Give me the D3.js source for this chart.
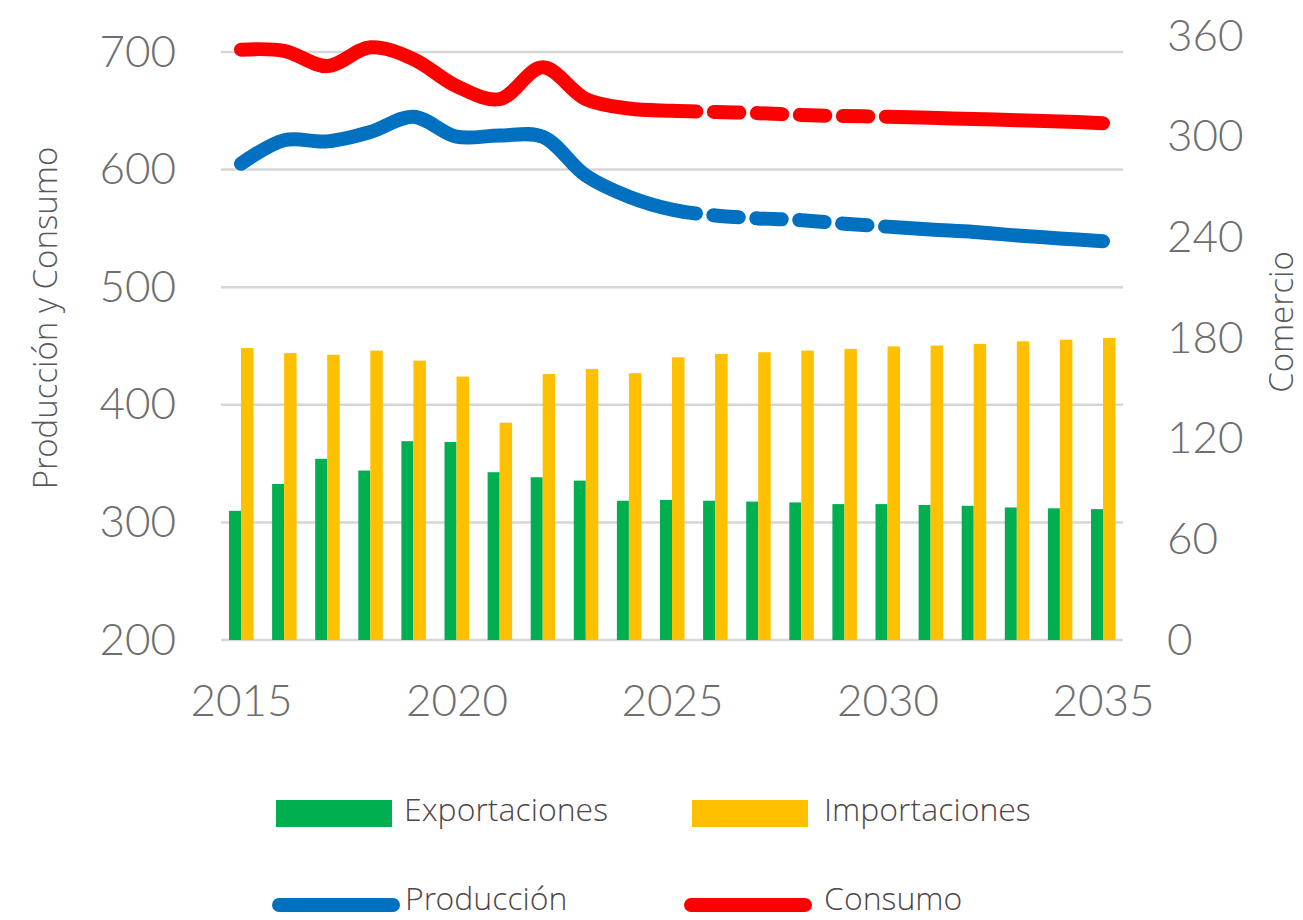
<!DOCTYPE html>
<html>
<head>
<meta charset="utf-8">
<script src="https://cdn.jsdelivr.net/npm/d3@7"></script>
<style>
  body { margin: 0; background: #fff; }
  svg { display: block; font-family: "Lato Light", Lato, "Open Sans", sans-serif; }
  .lbl { font-family: "Open Sans Light", "Open Sans", Lato, sans-serif; }
</style>
</head>
<body>
<div id="chart"></div>
<script>
var years = d3.range(2015, 2036);
var xTicks = [2015, 2020, 2025, 2030, 2035];
var leftTicks = [200, 300, 400, 500, 600, 700];
var rightTicks = [0, 60, 120, 180, 240, 300, 360];

// Comercio (right axis)
var exportaciones = [77, 93, 108, 101, 118.5, 118, 100, 97, 95, 83,
    83.5, 83, 82.5, 82, 81, 81, 80.5, 80, 79, 78.5, 78];
var importaciones = [174, 171, 170, 172.5, 166.5, 157, 129.5, 158.5, 161.5, 159,
    168.5, 170.5, 171.5, 172.5, 173.5, 175, 175.5, 176.5, 178, 179, 180];

// Produccion y Consumo (left axis)
var produccion = [605, 625, 624, 632, 645, 628, 629, 628, 595, 577,
    566, 561, 558.5, 557, 554, 551.5, 549, 547, 544, 541.5, 539];
var consumo = [702, 701, 688, 704, 694, 671, 660, 687, 660, 652,
    650, 649, 648, 646.5, 645.5, 645, 644, 643, 642, 641, 639.5];

// projection years drawn dashed
var dashFrom = 2025, dashTo = 2030;

var width = 1303, height = 920;

var svg = d3.select("#chart").append("svg")
    .attr("width", width)
    .attr("height", height);

var x = d3.scalePoint().domain(years).range([241, 1103]);
var yL = d3.scaleLinear().domain([200, 700]).range([640, 52]);
var yR = d3.scaleLinear().domain([0, 360]).range([640, 36]);

// gridlines
svg.append("g")
    .selectAll("line")
    .data(leftTicks)
    .enter().append("line")
    .attr("x1", 221).attr("x2", 1123)
    .attr("y1", function (d) { return yL(d); })
    .attr("y2", function (d) { return yL(d); })
    .attr("stroke", "#d6d6d6")
    .attr("stroke-width", 2.5);

// bars
var barW = 12;
var bars = svg.append("g");
bars.selectAll(".exp")
    .data(exportaciones)
    .enter().append("rect")
    .attr("x", function (d, i) { return x(years[i]) - barW; })
    .attr("y", function (d) { return yR(d); })
    .attr("width", barW)
    .attr("height", function (d) { return yR(0) - yR(d); })
    .attr("fill", "#00b050");
bars.selectAll(".imp")
    .data(importaciones)
    .enter().append("rect")
    .attr("x", function (d, i) { return x(years[i]); })
    .attr("y", function (d) { return yR(d); })
    .attr("width", barW + 0.5)
    .attr("height", function (d) { return yR(0) - yR(d); })
    .attr("fill", "#ffc000");

// lines
var line = d3.line()
    .x(function (d, i) { return x(years[i]); })
    .y(function (d) { return yL(d); })
    .curve(d3.curveCatmullRom.alpha(0.5));

// length along path where it reaches a given x
function lengthAtX(path, px) {
    var lo = 0, hi = path.getTotalLength();
    for (var k = 0; k < 40; k++) {
        var mid = (lo + hi) / 2;
        if (path.getPointAtLength(mid).x < px) lo = mid; else hi = mid;
    }
    return lo;
}

function drawSeries(values, color) {
    var path = svg.append("path")
        .datum(values)
        .attr("d", line)
        .attr("fill", "none")
        .attr("stroke", color)
        .attr("stroke-width", 14)
        .attr("stroke-linecap", "round")
        .attr("stroke-linejoin", "round");

    var node = path.node();
    var total = node.getTotalLength();
    var a = lengthAtX(node, x(dashFrom)), b = lengthAtX(node, x(dashTo));
    var dash = 25.5, gap = 17.5;
    var arr = [a + 24];
    var pos = a + 24;
    while (pos + gap + dash < b) {
        arr.push(gap, dash);
        pos += gap + dash;
    }
    arr.push(gap, total - pos - gap + 10);
    path.attr("stroke-dasharray", arr.join(","));
}

drawSeries(produccion, "#0070c0");
drawSeries(consumo, "#ff0000");

// axes
var tickFont = function (g) {
    g.select(".domain").remove();
    g.selectAll("text")
        .attr("fill", "#6e6e6e")
        .style("font-size", "44px")
        .style("font-weight", 300);
};

svg.append("g")
    .attr("transform", "translate(176,0)")
    .call(d3.axisLeft(yL).tickValues(leftTicks).tickSize(0).tickPadding(0))
    .call(tickFont);

svg.append("g")
    .attr("transform", "translate(1167,0)")
    .call(d3.axisRight(yR).tickValues(rightTicks).tickSize(0).tickPadding(0))
    .call(tickFont);

svg.append("g")
    .attr("transform", "translate(0,640)")
    .call(d3.axisBottom(x).tickValues(xTicks).tickSize(0))
    .call(tickFont)
    .selectAll("text")
    .attr("y", 76)
    .attr("dy", 0);

// the axis groups set their own font-family; let the svg one apply
svg.selectAll("g").attr("font-family", null);

// axis titles
svg.append("text")
    .attr("class", "lbl")
    .attr("transform", "translate(57,318) rotate(-90)")
    .attr("text-anchor", "middle")
    .attr("fill", "#595959")
    .style("font-size", "33px")
    .style("font-weight", 300)
    .text("Producción y Consumo");

svg.append("text")
    .attr("class", "lbl")
    .attr("transform", "translate(1293,322) rotate(-90)")
    .attr("text-anchor", "middle")
    .attr("fill", "#595959")
    .style("font-size", "33px")
    .style("font-weight", 300)
    .text("Comercio");

// legend
var legendBars = [
    { name: "Exportaciones", color: "#00b050", x: 276, tx: 404 },
    { name: "Importaciones", color: "#ffc000", x: 692, tx: 824 }
];
var legendLines = [
    { name: "Producción", color: "#0070c0", x: 279, tx: 405 },
    { name: "Consumo", color: "#ff0000", x: 691, tx: 824 }
];

var legend = svg.append("g");
legendBars.forEach(function (d) {
    legend.append("rect")
        .attr("x", d.x).attr("y", 800)
        .attr("width", 116).attr("height", 27)
        .attr("fill", d.color);
    legend.append("text")
        .attr("class", "lbl")
        .attr("x", d.tx).attr("y", 821)
        .attr("fill", "#4f4646")
        .style("font-size", "32px")
        .style("font-weight", 300)
        .text(d.name);
});
legendLines.forEach(function (d) {
    legend.append("line")
        .attr("x1", d.x).attr("x2", d.x + 114)
        .attr("y1", 905).attr("y2", 905)
        .attr("stroke", d.color)
        .attr("stroke-width", 14)
        .attr("stroke-linecap", "round");
    legend.append("text")
        .attr("class", "lbl")
        .attr("x", d.tx).attr("y", 910)
        .attr("fill", "#4f4646")
        .style("font-size", "32px")
        .style("font-weight", 300)
        .text(d.name);
});
</script>
</body>
</html>
